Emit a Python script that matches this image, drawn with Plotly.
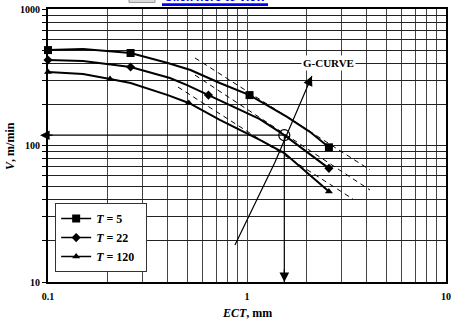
import plotly.graph_objects as go
import math

# ---- data ----
ect_t5 = [0.10, 0.15, 0.26, 0.40, 0.52, 0.73, 1.03, 1.59, 2.07, 2.58]
v_t5 = [500, 509, 476, 402, 357, 287, 234, 162, 126, 97]
mark_t5 = [0, 2, 6, 9]

ect_t22 = [0.10, 0.15, 0.26, 0.41, 0.50, 0.64, 0.73, 1.16, 1.54, 2.58]
v_t22 = [423, 416, 376, 312, 277, 234, 215, 156, 119, 68]
mark_t22 = [0, 2, 5, 9]

ect_t120 = [0.10, 0.15, 0.205, 0.26, 0.40, 0.51, 0.73, 1.16, 1.54, 2.58]
v_t120 = [345, 334, 307, 287, 234, 205, 154, 110, 88, 46]
mark_t120 = [0, 2, 5, 9]

dash_upper_x = [0.548, 4.15]
dash_upper_v = [438, 66.3]
dash_mid_x = [0.548, 4.15]
dash_mid_v = [328, 47.2]
dash_low_x = [0.450, 3.41]
dash_low_v = [268, 40.5]

g_ect = [0.87, 1.38, 2.12]
g_v = [18.7, 75, 323]

opt_ect = 1.54
opt_v = 119

x_tickvals = [0.1, 1, 10]
x_ticktext = ["0.1", "1", "10"]
y_tickvals = [10, 100, 1000]
y_ticktext = ["10", "100", "1000"]

series = [
    ("5", ect_t5, v_t5, mark_t5, "square", 8),
    ("22", ect_t22, v_t22, mark_t22, "diamond", 7),
    ("120", ect_t120, v_t120, mark_t120, "triangle-up", 7),
]

SERIF = "Liberation Serif, Times New Roman, serif"

fig = go.Figure()

for label, xs, ys, marks, sym, size in series:
    fig.add_trace(go.Scatter(x=xs, y=ys, mode="lines", line=dict(color="black", width=2),
                             showlegend=False, hoverinfo="skip"))
    fig.add_trace(go.Scatter(x=[xs[i] for i in marks], y=[ys[i] for i in marks], mode="markers",
                             marker=dict(symbol=sym, size=size, color="black"),
                             showlegend=False, cliponaxis=False))
    fig.add_trace(go.Scatter(x=[None], y=[None], mode="lines+markers",
                             line=dict(color="black", width=1.5),
                             marker=dict(symbol=sym, size=size, color="black"),
                             name="<b><i>T</i> = " + label + "</b>&nbsp;&nbsp;"))

for dx, dv in [(dash_upper_x, dash_upper_v), (dash_mid_x, dash_mid_v), (dash_low_x, dash_low_v)]:
    fig.add_trace(go.Scatter(x=dx, y=dv, mode="lines", line=dict(color="black", width=1, dash="5px,4px"),
                             showlegend=False))

# G-curve
fig.add_trace(go.Scatter(x=g_ect, y=g_v, mode="lines", line=dict(color="black", width=1.2),
                         showlegend=False))
# guide lines from the optimum point
fig.add_trace(go.Scatter(x=[0.1, opt_ect], y=[opt_v, opt_v], mode="lines",
                         line=dict(color="black", width=1.2), showlegend=False))
fig.add_trace(go.Scatter(x=[opt_ect, opt_ect], y=[opt_v, 10], mode="lines",
                         line=dict(color="black", width=1.2), showlegend=False))
fig.add_trace(go.Scatter(x=[opt_ect], y=[opt_v], mode="markers",
                         marker=dict(symbol="circle-open", size=11, color="black", line=dict(width=1.2)),
                         showlegend=False))

# arrowheads
fig.add_annotation(x=math.log10(g_ect[-1]), y=math.log10(g_v[-1]), ax=-5, ay=11, text="",
                   showarrow=True, arrowhead=2, arrowsize=1.6, arrowwidth=1.2, arrowcolor="black")
fig.add_annotation(xref="paper", x=-0.02, y=math.log10(opt_v), ax=14, ay=0, text="",
                   showarrow=True, arrowhead=2, arrowsize=1.6, arrowwidth=1.2, arrowcolor="black")
fig.add_annotation(x=math.log10(opt_ect), y=1, ax=0, ay=-14, text="",
                   showarrow=True, arrowhead=2, arrowsize=1.6, arrowwidth=1.2, arrowcolor="black")

# G-CURVE label
fig.add_annotation(x=math.log10(2.58), y=math.log10(402), text="<b>G-CURVE</b>", showarrow=False,
                   bgcolor="white", font=dict(family=SERIF, size=11, color="black"), borderpad=1)

# axis titles
fig.add_annotation(xref="paper", yref="paper", x=0.5, y=-0.115, yanchor="middle",
                   text="<b><i>ECT</i>, mm</b>", showarrow=False,
                   font=dict(family=SERIF, size=12, color="black"))
fig.add_annotation(xref="paper", yref="paper", x=-0.097, y=0.5, xanchor="center",
                   text="<b><i>V</i>, m/min</b>", showarrow=False, textangle=-90,
                   font=dict(family=SERIF, size=12, color="black"))

# partial "click here" link at top
fig.add_shape(type="rect", xref="paper", yref="paper", x0=0.2035, x1=0.2688, y0=1.024, y1=1.06,
              line=dict(color="#999", width=1), fillcolor="#ddd")
fig.add_annotation(xref="paper", yref="paper", x=0.4196, y=1.011, yanchor="bottom",
                   text="<b>Click here to view</b>", showarrow=False,
                   font=dict(family="Liberation Sans, Arial", size=12, color="#0000ee"))
fig.add_shape(type="rect", xref="paper", yref="paper", x0=0.2864, x1=0.5528, y0=1.011, y1=1.021,
              line=dict(width=0), fillcolor="#0000ee")

grid = "#444"
fig.update_layout(
    width=451, height=321,
    margin=dict(l=48, r=5, t=9, b=39, autoexpand=False),
    paper_bgcolor="white", plot_bgcolor="white",
    font=dict(family=SERIF, size=10, color="black"),
    showlegend=True,
    legend=dict(x=0.018, y=0.289, xanchor="left", yanchor="top",
                bgcolor="white", bordercolor="#333", borderwidth=1,
                font=dict(family=SERIF, size=12, color="black")),
    xaxis=dict(type="log", range=[-1, 1], tickvals=x_tickvals, automargin=False,
               ticktext=["<b>%s</b>" % t for t in x_ticktext],
               showgrid=True, gridcolor=grid, gridwidth=1.2,
               minor=dict(dtick="D1", showgrid=True, gridcolor=grid, gridwidth=1.2),
               showline=True, linecolor="black", linewidth=2, mirror=True,
               ticks="", ticklabelstandoff=4, zeroline=False),
    yaxis=dict(type="log", range=[1, 3], tickvals=y_tickvals, automargin=False,
               ticktext=["<b>%s</b>" % t for t in y_ticktext],
               showgrid=True, gridcolor="#222", gridwidth=1.2,
               minor=dict(dtick="D1", showgrid=True, gridcolor="#222", gridwidth=1.2,
                          ticks="outside", ticklen=4, tickcolor="black"),
               showline=True, linecolor="black", linewidth=2, mirror=True,
               ticks="outside", ticklen=4, tickcolor="black", zeroline=False),
)

fig.write_html("out.html", config={"displayModeBar": False},
               post_script="document.body.style.margin='0px';")
